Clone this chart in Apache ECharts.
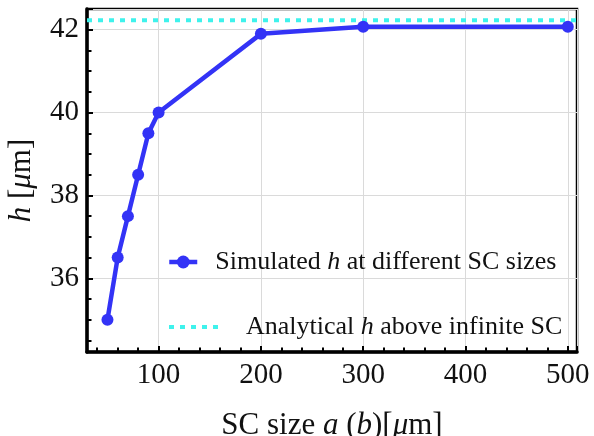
<!DOCTYPE html>
<html><head><meta charset="utf-8">
<script src="https://cdn.jsdelivr.net/npm/echarts@6/dist/echarts.min.js"></script>
<style>html,body{margin:0;padding:0;background:#fff}#c{width:594px;height:436px}</style>
</head><body><div id="c"></div>
<script>
// ---- data ----
const sizes = [50, 60, 70, 80, 90, 100, 200, 300, 500];
const simulatedH = [35.0, 36.5, 37.5, 38.5, 39.5, 40.0, 41.9, 42.07, 42.07];
const analyticalH = 42.23;
const xRange = [30, 509];
const yRange = [34.22, 42.5];
const xTickStep = 100;
const yTickStep = 2;
const seriesNames = ['Simulated h at different SC sizes', 'Analytical h above infinite SC'];
const legendLabels = {
  'Simulated h at different SC sizes': '{g| }{n|Simulated }{i|h}{n| at different SC sizes}',
  'Analytical h above infinite SC': '{g2| }{n|Analytical }{i|h}{n| above infinite SC}'
};

// ---- style ----
const FONT = "'Liberation Serif', 'Times New Roman', serif";
const BLUE = '#3333f6';
const CYAN = '#3ff2ec';
const TXT = '#111';

const chart = echarts.init(document.getElementById('c'), null, {renderer: 'canvas'});

const rich = {
  n: {fontFamily: FONT, fontSize: 26, color: TXT},
  i: {fontFamily: FONT, fontSize: 26, color: TXT, fontStyle: 'italic'},
  g: {width: 13},
  g2: {width: 17}
};
const nameRich = {
  i: {fontFamily: FONT, fontSize: 31, color: TXT, fontStyle: 'italic'}
};

const minorX = {
  type: 'value', min: xRange[0], max: xRange[1], splitNumber: 24, position: 'bottom',
  axisLine: {show: false}, axisLabel: {show: false}, splitLine: {show: false},
  axisTick: {show: true, inside: true, length: 4.5, lineStyle: {color: '#000', width: 2}}
};
const minorY = {
  type: 'value', min: yRange[0], max: yRange[1], splitNumber: 16, position: 'left',
  axisLine: {show: false}, axisLabel: {show: false}, splitLine: {show: false},
  axisTick: {show: true, inside: true, length: 4.5, lineStyle: {color: '#000', width: 2}}
};

chart.setOption({
  animation: false,
  backgroundColor: '#fff',
  grid: {left: 87, right: 17, top: 9, bottom: 84, show: true, borderColor: '#000', borderWidth: 2.5,
         backgroundColor: 'transparent', containLabel: false, outerBoundsMode: 'none'},
  xAxis: [{
    type: 'value', min: xRange[0], max: xRange[1], splitNumber: 5, position: 'bottom',
    axisLine: {show: true, onZero: false, lineStyle: {color: '#000', width: 3.5}},
    axisTick: {show: true, inside: true, length: 6, lineStyle: {color: '#000', width: 2}},
    axisLabel: {formatter: v => (Math.abs(v % xTickStep) < 1e-9 ? String(v) : ''),
                fontSize: 29, fontFamily: FONT, color: TXT, margin: 9},
    splitLine: {show: true, lineStyle: {color: '#dadada', width: 1}},
    name: 'SC size {i|a} ({i|b})[{i|μ}m]', nameLocation: 'middle', nameGap: 58,
    nameTextStyle: {fontSize: 31, fontFamily: FONT, color: TXT, rich: nameRich}
  }, minorX],
  yAxis: [{
    type: 'value', min: yRange[0], max: yRange[1], splitNumber: 4, position: 'left',
    axisLine: {show: true, onZero: false, lineStyle: {color: '#000', width: 3.5}},
    axisTick: {show: true, inside: true, length: 6, lineStyle: {color: '#000', width: 2}},
    axisLabel: {formatter: v => (Math.abs(v % yTickStep) < 1e-9 ? String(v) : ''),
                fontSize: 29, fontFamily: FONT, color: TXT, margin: 8, padding: [5, 0, 0, 0]},
    splitLine: {show: true, lineStyle: {color: '#dadada', width: 1}},
    name: '{i|h} [{i|μ}m]', nameLocation: 'middle', nameGap: 50,
    nameTextStyle: {fontSize: 31, fontFamily: FONT, color: TXT, rich: nameRich}
  }, minorY],
  legend: [{
    data: [seriesNames[0]], left: 167, top: 249, padding: 0, orient: 'horizontal',
    itemWidth: 28, itemHeight: 16, selectedMode: false,
    lineStyle: {width: 4.5},
    formatter: n => legendLabels[n],
    textStyle: {fontSize: 26, fontFamily: FONT, color: TXT, rich: rich}
  }, {
    data: [{name: seriesNames[1], itemStyle: {opacity: 0}}], left: 167, top: 314, padding: 0,
    itemWidth: 55, itemHeight: 16, selectedMode: false,
    lineStyle: {width: 4},
    formatter: n => legendLabels[n],
    textStyle: {fontSize: 26, fontFamily: FONT, color: TXT, rich: rich}
  }],
  series: [{
    type: 'line', name: seriesNames[0], xAxisIndex: 0, yAxisIndex: 0,
    data: sizes.map((s, i) => [s, simulatedH[i]]),
    symbol: 'circle', symbolSize: 12, showSymbol: true,
    lineStyle: {color: BLUE, width: 4.5}, itemStyle: {color: BLUE}, z: 4
  }, {
    type: 'line', name: seriesNames[1], xAxisIndex: 0, yAxisIndex: 0,
    data: [[xRange[0], analyticalH], [xRange[1], analyticalH]],
    symbol: 'none', showSymbol: false,
    lineStyle: {color: CYAN, width: 4, type: [5, 6]}, itemStyle: {color: CYAN}, z: 3
  }]
});
</script></body></html>
